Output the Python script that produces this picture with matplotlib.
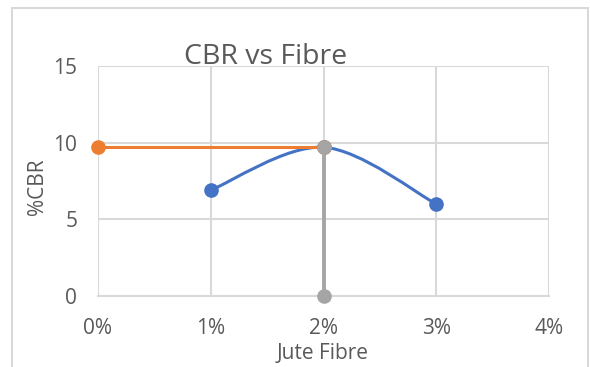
import matplotlib
matplotlib.use('Agg')
import matplotlib.pyplot as plt
import numpy as np
from matplotlib.path import Path
from matplotlib.patches import PathPatch, Rectangle

plt.rcParams['font.family'] = ['Open Sans', 'DejaVu Sans']

# data
fibre = [0.01, 0.02, 0.03]
cbr = [6.9, 9.7, 6.0]
orange_x = [0.0, 0.02]
orange_y = [9.7, 9.7]
gray_x = [0.02, 0.02]
gray_y = [0.0, 9.7]
xticks = [0.0, 0.01, 0.02, 0.03, 0.04]
xlabels = ['0%', '1%', '2%', '3%', '4%']
yticks = [0, 5, 10, 15]

BLUE = '#4472C4'
ORANGE = '#ED7D31'
GRAY = '#A5A5A5'
GRID = '#D9D9D9'
TXT = '#595959'


def excel_smooth(xs, ys):
    # bezier segments like Excel's "smoothed line"
    pts = np.column_stack([xs, ys])
    n = len(pts)
    verts = [pts[0]]
    codes = [Path.MOVETO]
    for i in range(n - 1):
        p0 = pts[max(i - 1, 0)]
        p1 = pts[i]
        p2 = pts[i + 1]
        p3 = pts[min(i + 2, n - 1)]
        c1 = p1 + (p2 - p0) / 6
        c2 = p2 - (p3 - p1) / 6
        verts += [c1, c2, p2]
        codes += [Path.CURVE4] * 3
    return Path(verts, codes)


fig = plt.figure(figsize=(5.9, 3.67), dpi=100)
ax = fig.add_axes([98 / 590, 1 - 296 / 367, 451 / 590, 230 / 367])

# chart border
fig.patches.append(Rectangle((12 / 590, -0.1), 576 / 590, 1.1 - 8 / 367,
                             transform=fig.transFigure, fill=False,
                             edgecolor=GRID, lw=1.5))

ax.set_xlim(0, 0.04)
ax.set_ylim(0, 15)
ax.set_xticks(xticks)
ax.set_xticklabels(xlabels)
ax.set_yticks(yticks)
ax.grid(True, color=GRID, lw=1.5)
ax.set_axisbelow(True)
for s in ['top', 'right', 'left']:
    ax.spines[s].set_visible(False)
ax.spines['bottom'].set_color(GRID)
ax.spines['bottom'].set_linewidth(1.5)
ax.tick_params(length=0, labelsize=15, colors=TXT)
ax.tick_params(axis='x', pad=16)
ax.tick_params(axis='y', pad=15)

ax.add_patch(PathPatch(excel_smooth(fibre, cbr), fill=False,
                       edgecolor=BLUE, lw=2.2, zorder=3))
ax.plot(fibre, cbr, 'o', color=BLUE, ms=9.5, zorder=4, clip_on=False)
ax.plot(orange_x, orange_y, '-o', color=ORANGE, lw=2.2, ms=9.5, zorder=5,
        clip_on=False)
ax.plot(gray_x, gray_y, '-o', color=GRAY, lw=2.8, ms=9.5, zorder=6,
        clip_on=False)

fig.text(266 / 590, 1 - 64 / 367, 'CBR vs Fibre', ha='center', va='baseline',
         fontsize=20.5, color=TXT)
fig.text(48 / 590, 1 - 187 / 367, '%CBR', rotation=90, ha='right',
         va='center', fontsize=15, color=TXT)
fig.text(323 / 590, 1 - 359 / 367, 'Jute Fibre', ha='center', va='baseline',
         fontsize=15, color=TXT)

fig.savefig('out.png', dpi=100)
